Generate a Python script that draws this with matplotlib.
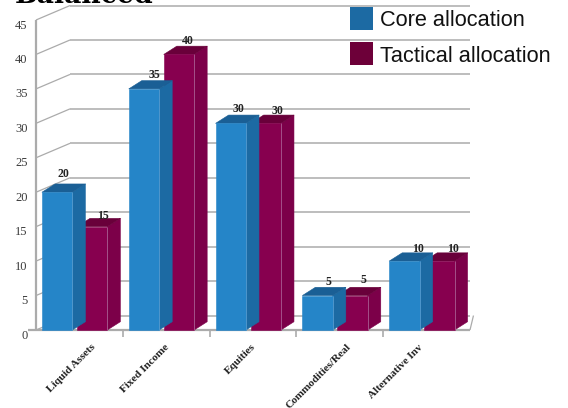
import matplotlib
matplotlib.use('Agg')
import matplotlib.pyplot as plt
from matplotlib.patches import Polygon, Rectangle

categories = ['Liquid Assets', 'Fixed Income', 'Equities', 'Commodities/Real', 'Alternative Inv']
core = [20, 35, 30, 5, 10]
tactical = [15, 40, 30, 5, 10]
y_ticks = [0, 5, 10, 15, 20, 25, 30, 35, 40, 45]

# size of the fake 3d box, in data units
wall_dx, wall_dy = 0.392, 2.1
bar_dx, bar_dy = 0.15, 1.2
bar_w = 0.35

GRID = '#ababab'
TXT = '#3a3a3a'
W, H = 568, 408

fig = plt.figure(figsize=(W / 100, H / 100), dpi=100)
ax = fig.add_axes([36 / W, 1 - 330 / H, 434 / W, 310 / H])
ax.set_xlim(0, 5)
ax.set_ylim(0, 45)
ax.axis('off')


def line(xs, ys, lw=1.1, color=GRID, z=1):
    ax.plot(xs, ys, color=color, lw=lw, clip_on=False, zorder=z, solid_capstyle='butt')


def bar3d(x, v, front, side, top, z):
    edge = dict(clip_on=False, zorder=z, lw=0.4, joinstyle='round')
    ax.add_patch(Polygon([(x + bar_w, 0), (x + bar_w + bar_dx, bar_dy),
                          (x + bar_w + bar_dx, v + bar_dy), (x + bar_w, v)],
                         facecolor=side, edgecolor=side, **edge))
    ax.add_patch(Polygon([(x, v), (x + bar_w, v), (x + bar_w + bar_dx, v + bar_dy),
                          (x + bar_dx, v + bar_dy)],
                         facecolor=top, edgecolor=top, **edge))
    ax.add_patch(Rectangle((x, 0), bar_w, v, facecolor=front, edgecolor=front, **edge))
    # lighter seam between front and side
    line([x + bar_w, x + bar_w], [0, v], lw=0.5, color='#b070a0' if front == '#87004f' else '#5f9fd0', z=z)


def value_label(x, v, nudge):
    ax.annotate(str(v), (x + (bar_w + bar_dx) / 2, v), xytext=nudge,
                textcoords='offset points', ha='center', va='center', fontsize=8.5,
                fontweight='bold', color='#222222', family='Liberation Serif', zorder=30)


# back wall and left wall
for t in y_ticks:
    line([wall_dx, 5], [t + wall_dy, t + wall_dy])
    line([0, wall_dx], [t, t + wall_dy], lw=0.9)
line([0, 0], [0, 45], lw=1.6)
line([0, 5], [0, 0], lw=1.6)
line([5, 5.04], [0, wall_dy], lw=0.9)
line([-0.09, 0], [0, 0], lw=1.6)
for i in range(1, 5):
    line([i, i], [0, -1], lw=1.2)

for t in y_ticks:
    ax.annotate(str(t), (0, t), xytext=(-6, -4), textcoords='offset points',
                ha='right', va='center', fontsize=9, color=TXT,
                family='Liberation Serif', annotation_clip=False)

# label offsets in points, the data labels do not sit at one fixed height
core_nudge = [(0, 13), (3, 10), (1, 10), (3, 10), (5, 9)]
tactical_nudge = [(3, 8), (2, 10), (4, 9), (3, 11), (5, 9)]

# bars, maroon first so the blue side panel overlaps it
for i in range(len(categories)):
    bar3d(i + 0.472, tactical[i], '#87004f', '#7c0049', '#69003a', 3 + 2 * i)
    bar3d(i + 0.069, core[i], '#2585c8', '#1c6aa3', '#1a5f95', 4 + 2 * i)
    value_label(i + 0.069, core[i], core_nudge[i])
    value_label(i + 0.472, tactical[i], tactical_nudge[i])

# category labels, right end of each label hangs near the axis
label_shift = [0.135, -0.015, -0.025, 0.075, -0.095]
for i, c in enumerate(categories):
    ax.annotate(c, (i + 0.5 + label_shift[i], 0), xytext=(0, -9), textcoords='offset points',
                rotation=45, rotation_mode='anchor', ha='right', va='top', fontsize=8,
                fontweight='bold', color='#222222', family='Liberation Serif',
                annotation_clip=False)

# legend squares and text
leg = [('Core allocation', '#1c6aa3', 7), ('Tactical allocation', '#6d0039', 42)]
for name, col, top in leg:
    fig.patches.append(Rectangle((350 / W, 1 - (top + 23) / H), 23 / W, 23 / H,
                                 transform=fig.transFigure, facecolor=col, edgecolor='none'))
    fig.text(380 / W, 1 - (top + 14) / H, name, fontsize=15.7, va='center',
             family='Liberation Sans', color='#111111')

# heading sits mostly off the top of the canvas
fig.text(15 / W, 1 - 3 / H, 'Balanced', fontsize=19.2, fontweight='bold', va='baseline',
         family='DejaVu Serif', color='black')

fig.savefig('out.png', dpi=100)
